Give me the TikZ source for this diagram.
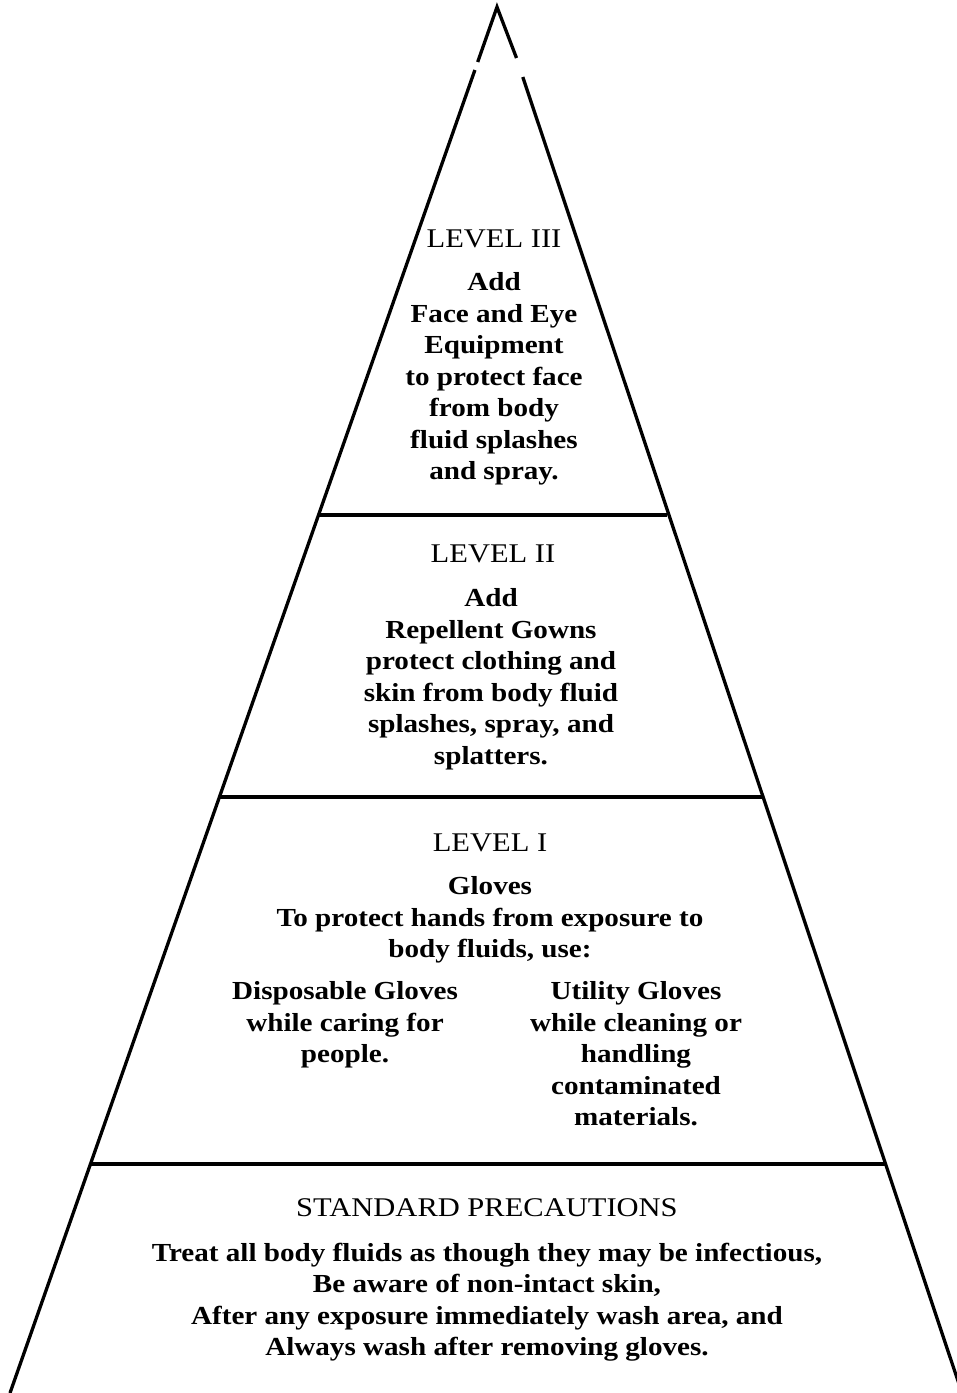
\documentclass[tikz,border=0pt]{standalone}
\usepackage{fontspec}
\setmainfont{Liberation Serif}[FakeStretch=1.12]
\newfontfamily\headfont{Liberation Serif}[FakeStretch=1.13]
\begin{document}
\begin{tikzpicture}[x=1pt,y=-1pt,
  edge/.style={line width=3.3pt, line join=miter, line cap=butt},
  body/.style={font=\bfseries\fontsize{26}{31.5}\selectfont, align=center, inner sep=0pt},
  head/.style={font=\headfont\fontsize{27}{31.5}\selectfont, inner sep=0pt}]
\useasboundingbox (0,0) rectangle (957,1393);
\clip (0,0) rectangle (957,1393);
% outline points
\coordinate (apex) at (497,7);
\coordinate (lgapA) at (477.7,62);
\coordinate (lgapB) at (474.9,70);
\coordinate (rgapA) at (516.5,58);
\coordinate (rgapB) at (522.8,77);
\coordinate (bl) at (10,1393);
\coordinate (br) at (962,1393);
\coordinate (d3l) at (318.5,515);
\coordinate (d3r) at (667.4,515);
\coordinate (d2l) at (219.4,797);
\coordinate (d2r) at (762.0,797);
\coordinate (d1l) at (90.4,1164);
\coordinate (d1r) at (885.2,1164);
% sides
\draw[edge] (lgapA) -- (apex) -- (rgapA);
\draw[edge] (lgapB) -- (bl);
\draw[edge] (rgapB) -- (br);
% dividers
\draw[edge] (d3l) -- (d3r);
\draw[edge] (d2l) -- (d2r);
\draw[edge] (d1l) -- (d1r);
% Level III
\node[head] (h3) at (494,239) {LEVEL III};
\node[body] (t3) at (494,379) {Add\\Face and Eye\\Equipment\\to protect face\\from body\\fluid splashes\\and spray.};
% Level II
\node[head] (h2) at (493,554) {LEVEL II};
\node[body] (t2) at (491,679) {Add\\Repellent Gowns\\protect clothing and\\skin from body fluid\\splashes, spray, and\\splatters.};
% Level I
\node[head] (h1) at (490,843) {LEVEL I};
\node[body] (t1) at (490,920) {Gloves\\To protect hands from exposure to\\body fluids, use:};
\node[body] (t1a) at (345,1025) {Disposable Gloves\\while caring for\\people.};
\node[body] (t1b) at (636,1054) {Utility Gloves\\while cleaning or\\handling\\contaminated\\materials.};
% Standard precautions
\node[head] (h0) at (487,1208) {STANDARD PRECAUTIONS};
\node[body] (t0) at (487,1302) {Treat all body fluids as though they may be infectious,\\Be aware of non-intact skin,\\After any exposure immediately wash area, and\\Always wash after removing gloves.};
\end{tikzpicture}
\end{document}
